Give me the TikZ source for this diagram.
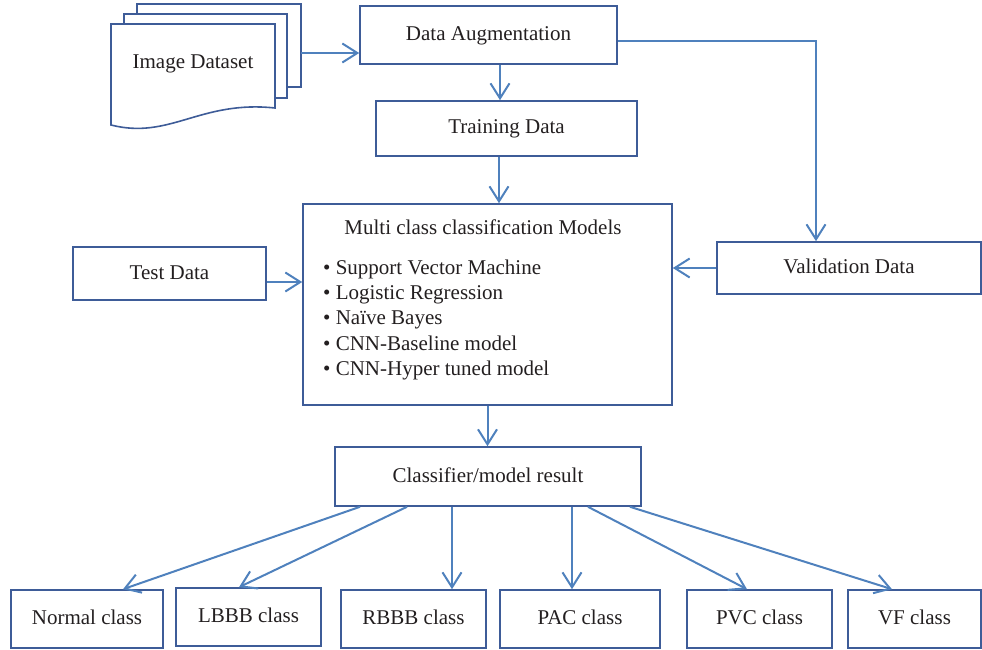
\documentclass[tikz,border=0pt]{standalone}
\usepackage{fontspec}
\setmainfont{Liberation Serif}
\usetikzlibrary{arrows.meta}
\definecolor{boxc}{RGB}{62,92,152}
\definecolor{arrc}{RGB}{79,129,189}
\definecolor{txtc}{RGB}{35,31,32}
\tikzset{
  bx/.style={draw=boxc, line width=1.6pt, inner sep=0pt, text=txtc, text height=14pt, text depth=3pt, font=\fontsize{21}{25}\selectfont},
  lbl/.style={inner sep=0pt, text=txtc, font=\fontsize{21}{25}\selectfont},
  arr/.style={draw=arrc, line width=2pt, -{Straight Barb[length=15pt,width=19pt,line width=2pt]}},
  pg/.style={draw=boxc, line width=1.6pt, fill=white, line join=miter}
}
\begin{document}
\begin{tikzpicture}[x=1pt,y=-1pt]
\useasboundingbox (0,0) rectangle (982,650);
% document stack
\draw[pg] (137,4) -- (301,4) -- (301,87) -- (137,87) -- cycle;
\draw[pg] (124,14) -- (287,14) -- (287,98) -- (124,98) -- cycle;
\draw[pg] (111,24) -- (275,24) -- (275,108) .. controls (200,100) and (170,140) .. (111,125) -- cycle;
\node[lbl, anchor=base] (imgds) at (193,69) {Image Dataset};
\coordinate (ds) at (301,53);

\node[bx, minimum width=257pt, minimum height=58pt] (da) at (488.5,35) {Data Augmentation};
\node[bx, minimum width=261pt, minimum height=55pt] (td) at (506.5,128.5) {Training Data};
\node[bx, minimum width=369pt, minimum height=201pt] (models) at (487.5,304.5) {};
\node[lbl, anchor=base] (mtitle) at (483,234) {Multi class classification Models};
\foreach \t [count=\i] in {Support Vector Machine, Logistic Regression, Naïve Bayes, CNN-Baseline model, CNN-Hyper tuned model}{
  \node[lbl, anchor=base west] (m\i) at (323,{274+25.4*(\i-1)}) {•\ \t};
}
\node[bx, minimum width=264pt, minimum height=52pt] (val) at (849,268) {Validation Data};
\node[bx, minimum width=193pt, minimum height=53pt] (test) at (169.5,273.5) {Test Data};
\node[bx, minimum width=306pt, minimum height=59pt] (clf) at (488,476.5) {Classifier/model result};

\node[bx, minimum width=152pt, minimum height=58pt] (normal) at (87,619) {Normal class};
\node[bx, minimum width=145pt, minimum height=58pt] (lbbb) at (248.5,617) {LBBB class};
\node[bx, minimum width=145pt, minimum height=58pt] (rbbb) at (413.5,619) {RBBB class};
\node[bx, minimum width=160pt, minimum height=58pt] (pac) at (580,619) {PAC class};
\node[bx, minimum width=145pt, minimum height=58pt] (pvc) at (759.5,619) {PVC class};
\node[bx, minimum width=133pt, minimum height=58pt] (vf) at (914.5,619) {VF class};

% connectors
\draw[arr] (ds) -- (ds -| da.west);
\draw[arr] ([xshift=11.5pt]da.south) -- ([xshift=-6.5pt]td.north);
\draw[arr] ([yshift=-6pt]da.east) -| ([xshift=-33pt]val.north);
\draw[arr] ([xshift=-7.5pt]td.south) -- ([xshift=11.5pt]models.north);
\draw[arr] (val.west) -- (val.west -| models.east);
\coordinate (tA) at ([yshift=-8.5pt]test.east);
\draw[arr] (tA) -- (tA -| models.west);
\draw[arr] (models.south) -- (models.south |- clf.north);
\draw[arr] ([xshift=-128pt]clf.south) -- ([xshift=36pt]normal.north);
\draw[arr] ([xshift=-81pt]clf.south) -- ([xshift=-9.5pt]lbbb.north);
\draw[arr] ([xshift=-36pt]clf.south) -- ([xshift=38.5pt]rbbb.north);
\draw[arr] ([xshift=84pt]clf.south) -- ([xshift=-8pt]pac.north);
\draw[arr] ([xshift=100pt]clf.south) -- ([xshift=-12.5pt]pvc.north);
\draw[arr] ([xshift=142pt]clf.south) -- ([xshift=-22.5pt]vf.north);
\end{tikzpicture}
\end{document}
